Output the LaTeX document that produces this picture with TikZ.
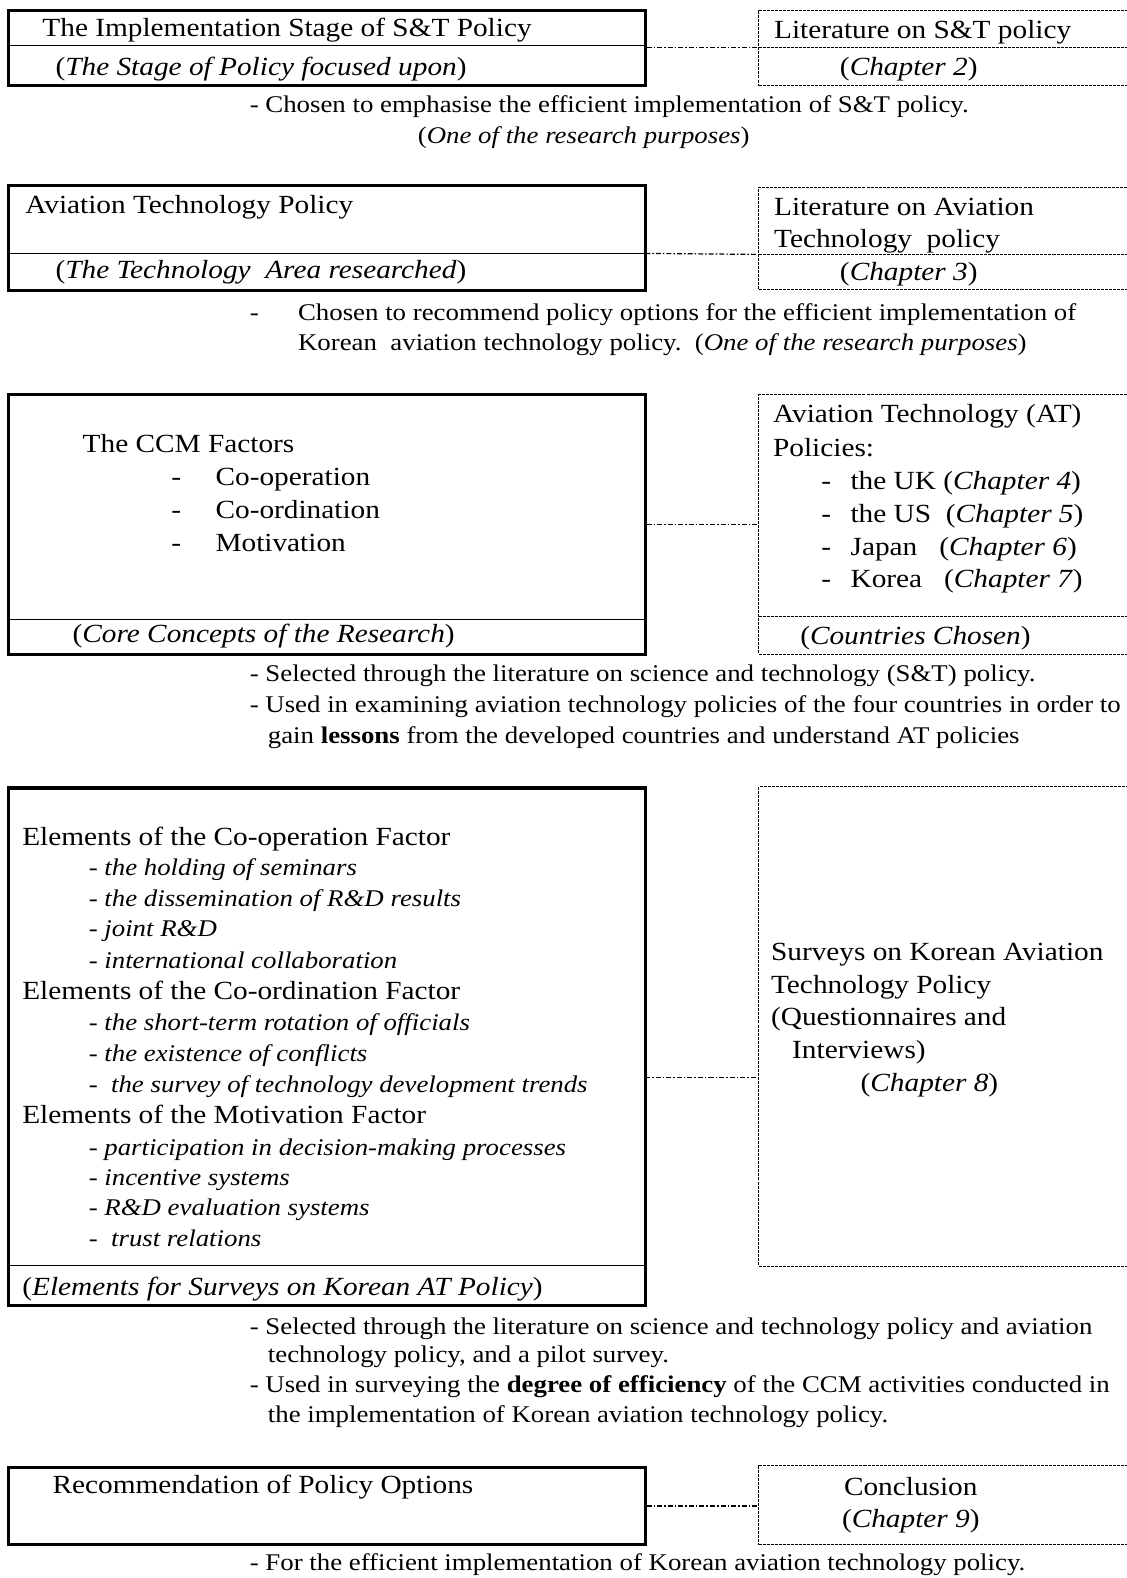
\documentclass[tikz,border=0pt]{standalone}
\usepackage{fontspec}
\setmainfont{Liberation Serif}[FakeStretch=1.12]
\usetikzlibrary{fit}

\begin{document}
\begin{tikzpicture}[x=1pt, y=-1pt,
		font=\fontsize{26}{30.7}\selectfont,
		txt/.style={anchor=base west, inner sep=0pt},
		ctxt/.style={anchor=base, inner sep=0pt},
		note/.style={txt, font=\fontsize{23.8}{30.7}\selectfont},
		solidbox/.style={draw, line width=3pt, inner sep=0pt},
		dashbox/.style={draw, line width=1pt, dash pattern=on 3pt off 1pt, inner sep=0pt},
		part/.style={inner sep=0pt},
		divider/.style={line width=1pt},
		link/.style={line width=1.2pt, dash pattern=on 5pt off 2pt on 1.5pt off 2pt}]
			\useasboundingbox (0,0) rectangle (1119,1568);

			% stage of policy
			\node[solidbox, fit={(8,10) (641,85)}] (stage) {};
			\node[part, fit={(8,45) (641,85)}] (stagecap) {};
			\draw[divider] (stagecap.north west) -- (stagecap.north east);
			\node (stagehead) at (42,36) [txt] {The Implementation Stage of S\&T Policy};
			\node (stagenote) at (55,75) [txt] {(\textit{The Stage of Policy focused upon})};
			\node[dashbox, fit={(754,10) (1126,85)}] (lit) {};
			\node[part, fit={(754,47) (1126,85)}] (litcap) {};
			\draw[divider, dash pattern=on 3pt off 1pt] (litcap.north west) -- (litcap.north east);
			\node (lithead) at (769,38) [txt] {Literature on S\&T policy};
			\node (litch) at (903,75) [ctxt] {(\textit{Chapter 2})};
			\draw[link] (stage.east) -- (stage.east -| lit.west);
			\node (whystage) at (248,112) [note] {- Chosen to emphasise the efficient implementation of S\&T policy.};
			\node (whystageb) at (415,143) [note] {(\textit{One of the research purposes})};

			% technology area
			\node[solidbox, fit={(8,184) (641,289)}] (atp) {};
			\node[part, fit={(8,252) (641,289)}] (atpcap) {};
			\draw[divider] (atpcap.north west) -- (atpcap.north east);
			\node (atphead) at (25,212) [txt] {Aviation Technology Policy};
			\node (atpnote) at (55,277) [txt] {(\textit{The Technology\ \ Area researched})};
			\node[dashbox, fit={(754,186) (1126,288)}] (atlit) {};
			\node[part, fit={(754,253) (1126,288)}] (atlitcap) {};
			\draw[divider, dash pattern=on 3pt off 1pt] (atlitcap.north west) -- (atlitcap.north east);
			\node (atlithead) at (769,214) [txt] {Literature on Aviation};
			\node (atlitheadb) at (769,246) [txt] {Technology\ \ policy};
			\node (atlitch) at (903,279) [ctxt] {(\textit{Chapter 3})};
			\draw[link] (atpcap.north east) -- (atlitcap.north west);
			\node (whyatdash) at (248,318) [note] {-};
			\node (whyat) at (296,318) [note] {Chosen to recommend policy options for the efficient implementation of};
			\node (whyatb) at (296,348) [note] {Korean\ \ aviation technology policy.\ \ (\textit{One of the research purposes})};

			% ccm factors
			\node[solidbox, fit={(8,392) (641,650)}] (ccm) {};
			\node[part, fit={(8,616) (641,650)}] (ccmcap) {};
			\draw[divider] (ccmcap.north west) -- (ccmcap.north east);
			\node (ccmhead) at (82,450) [txt] {The CCM Factors};
			\foreach \fac [count=\i] in {Co-operation, Co-ordination, Motivation} {
				\node (ccmdash\i) at (170,450+32.7*\i) [txt] {-};
				\node (ccmfac\i) at (214,450+32.7*\i) [txt] {\fac};
			}
			\node (ccmnote) at (72,638) [txt] {(\textit{Core Concepts of the Research})};
			\node[dashbox, fit={(754,392) (1126,650)}] (countries) {};
			\node[part, fit={(754,613) (1126,650)}] (countriescap) {};
			\draw[divider, dash pattern=on 3pt off 1pt] (countriescap.north west) -- (countriescap.north east);
			\node (counthead) at (768,420) [txt] {Aviation Technology (AT)};
			\node (countheadb) at (768,454) [txt] {Policies:};
			\foreach \cty/\ch [count=\i] in {the UK /4, the US\ \ /5, Japan\ \ \ /6, Korea\ \ \ /7} {
				\node (ctydash\i) at (816,454+32.5*\i) [txt] {-};
				\node (cty\i) at (845,454+32.5*\i) [txt] {\cty(\textit{Chapter \ch})};
			}
			\node (countnote) at (795,640) [txt] {(\textit{Countries Chosen})};
			\draw[link] (ccm.east) -- (ccm.east -| countries.west);
			\node (whyccm) at (248,677) [note] {- Selected through the literature on science and technology (S\&T) policy.};
			\node (whyccmb) at (248,708) [note] {- Used in examining aviation technology policies of the four countries in order to};
			\node (whyccmc) at (266,739) [note] {gain \textbf{lessons} from the developed countries and understand AT policies};

			% elements for surveys
			\node[solidbox, fit={(8,783) (641,1297)}] (elements) {};
			\node[part, fit={(8,1258) (641,1297)}] (elementscap) {};
			\draw[divider] (elementscap.north west) -- (elementscap.north east);
			\node (elcoop) at (22,840) [txt] {Elements of the Co-operation Factor};
			\node (elcoop1) at (88,870) [note] {- \textit{the holding of seminars}};
			\node (elcoop2) at (88,901) [note] {- \textit{the dissemination of R\&D results}};
			\node (elcoop3) at (88,931) [note] {- \textit{joint R\&D}};
			\node (elcoop4) at (88,962) [note] {- \textit{international collaboration}};
			\node (elcoord) at (22,993) [txt] {Elements of the Co-ordination Factor};
			\node (elcoord1) at (88,1024) [note] {- \textit{the short-term rotation of officials}};
			\node (elcoord2) at (88,1055) [note] {- \textit{the existence of conflicts}};
			\node (elcoord3) at (88,1086) [note] {-\ \ \textit{the survey of technology development trends}};
			\node (elmot) at (22,1116) [txt] {Elements of the Motivation Factor};
			\node (elmot1) at (88,1148) [note] {- \textit{participation in decision-making processes}};
			\node (elmot2) at (88,1178) [note] {- \textit{incentive systems}};
			\node (elmot3) at (88,1208) [note] {- \textit{R\&D evaluation systems}};
			\node (elmot4) at (88,1239) [note] {-\ \ \textit{trust relations}};
			\node (elnote) at (22,1287) [txt] {(\textit{Elements for Surveys on Korean AT Policy})};
			\node[dashbox, fit={(754,782) (1126,1258)}] (surveys) {};
			\node (survhead) at (766,954) [txt] {Surveys on Korean Aviation};
			\node (survheadb) at (766,987) [txt] {Technology Policy};
			\node (survheadc) at (766,1019) [txt] {(Questionnaires and};
			\node (survheadd) at (787,1052) [txt] {Interviews)};
			\node (survch) at (855,1085) [txt] {(\textit{Chapter 8})};
			\coordinate (l4) at (641,1071);
			\draw[link] (l4) -- (l4 -| surveys.west);
			\node (whyel) at (248,1326) [note] {- Selected through the literature on science and technology policy and aviation};
			\node (whyelb) at (266,1354) [note] {technology policy, and a pilot survey.};
			\node (whyelc) at (248,1384) [note] {- Used in surveying the \textbf{degree of efficiency} of the CCM activities conducted in};
			\node (whyeld) at (266,1413) [note] {the implementation of Korean aviation technology policy.};

			% recommendation
			\node[solidbox, fit={(8,1458) (641,1535)}] (options) {};
			\node (optionshead) at (52,1484) [txt] {Recommendation of Policy Options};
			\node[dashbox, fit={(754,1456) (1126,1535)}] (conclusion) {};
			\node (conchead) at (905,1486) [ctxt] {Conclusion};
			\node (concch) at (905,1518) [ctxt] {(\textit{Chapter 9})};
			\draw[link] (options.east) -- (options.east -| conclusion.west);
			\node (whyopt) at (248,1561) [note] {- For the efficient implementation of Korean aviation technology policy.};
		\end{tikzpicture}
\end{document}
